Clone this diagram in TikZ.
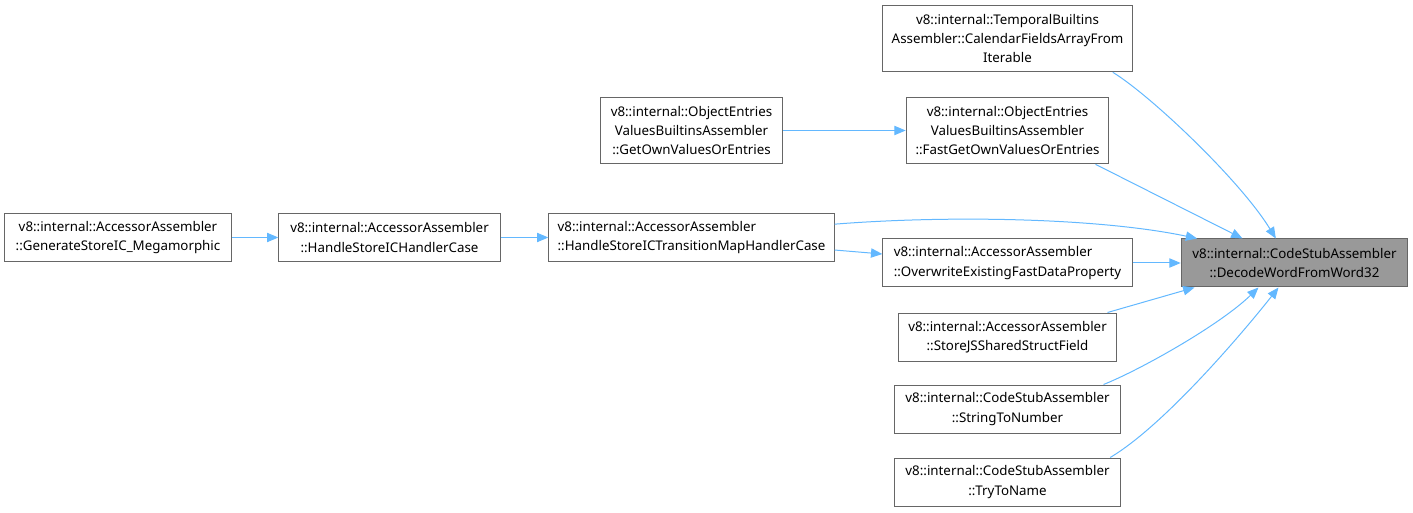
\documentclass[tikz,border=0pt]{standalone}
\usepackage{fontspec}
\setmainfont{Noto Sans}
\usepackage{tikz}
\usetikzlibrary{arrows.meta}
\definecolor{edgeblue}{HTML}{63B8FF}
\definecolor{boxgray}{HTML}{666666}
\definecolor{focusgray}{HTML}{999999}

\begin{document}
\begin{tikzpicture}[x=0.75pt, y=-0.75pt,
  box/.style={draw=boxgray, line width=0.75pt, fill=white, align=center, inner sep=0pt,
    font=\fontsize{10pt}{14.5pt}\selectfont, minimum height=36pt},
  tall/.style={box, minimum height=50pt},
  edge/.style={draw=edgeblue, line width=0.75pt, -{Triangle[length=8.5pt,width=7pt]}}]
\useasboundingbox (0,0) rectangle (1413,513);

% Focus node
\node[box, fill=focusgray, minimum width=170pt] (target) at (1294.5,263) {v8::internal::CodeStubAssembler\\::DecodeWordFromWord32};

% Callers
\node[tall, minimum width=188pt] (temporal) at (1007.5,38.5) {v8::internal::TemporalBuiltins\\Assembler::CalendarFieldsArrayFrom\\Iterable};
\node[tall, minimum width=152pt] (fastget) at (1007.5,130.5) {v8::internal::ObjectEntries\\ValuesBuiltinsAssembler\\::FastGetOwnValuesOrEntries};
\node[tall, minimum width=137pt] (getown) at (691.5,130.5) {v8::internal::ObjectEntries\\ValuesBuiltinsAssembler\\::GetOwnValuesOrEntries};
\node[box, align=left, minimum width=214pt] (transition) at (691.5,237.5) {v8::internal::AccessorAssembler\\::HandleStoreICTransitionMapHandlerCase};
\node[box, minimum width=166pt] (handlecase) at (389.5,237.5) {v8::internal::AccessorAssembler\\::HandleStoreICHandlerCase};
\node[box, minimum width=170pt] (generate) at (118,237.5) {v8::internal::AccessorAssembler\\::GenerateStoreIC\_Megamorphic};
\node[box, align=left, minimum width=187pt] (overwrite) at (1007.5,263) {v8::internal::AccessorAssembler\\::OverwriteExistingFastDataProperty};
\node[box, minimum width=164pt] (storejs) at (1007.5,337) {v8::internal::AccessorAssembler\\::StoreJSSharedStructField};
\node[box, minimum width=170pt] (strtonum) at (1007.5,409) {v8::internal::CodeStubAssembler\\::StringToNumber};
\node[box, minimum width=170pt] (trytoname) at (1007.5,482) {v8::internal::CodeStubAssembler\\::TryToName};

% Edges into the focus node
\draw[edge] ([xshift=79pt]temporal.south) .. controls (1150,95) and (1240,180) .. ([xshift=-14pt]target.north);
\draw[edge] ([xshift=66pt]fastget.south) -- ([xshift=-39pt]target.north);
\draw[edge] ([yshift=10pt]transition.east) .. controls (950,215) and (1100,218) .. ([xshift=-73pt]target.north);
\draw[edge] (overwrite) -- (target);
\draw[edge] ([xshift=75pt]storejs.north) -- ([xshift=-75pt]target.south);
\draw[edge] ([xshift=72pt]strtonum.north) .. controls (1140,370) and (1220,325) .. ([xshift=-27pt]target.south);
\draw[edge] ([xshift=77pt]trytoname.north) .. controls (1165,425) and (1245,330) .. ([xshift=-12pt]target.south);

% Edges along the chain
\draw[edge] (getown) -- (fastget);
\draw[edge] ([yshift=-9.4pt]transition.east) -- ([yshift=6.75pt]overwrite.west);
\draw[edge] (handlecase) -- (transition);
\draw[edge] (generate) -- (handlecase);
\end{tikzpicture}
\end{document}
